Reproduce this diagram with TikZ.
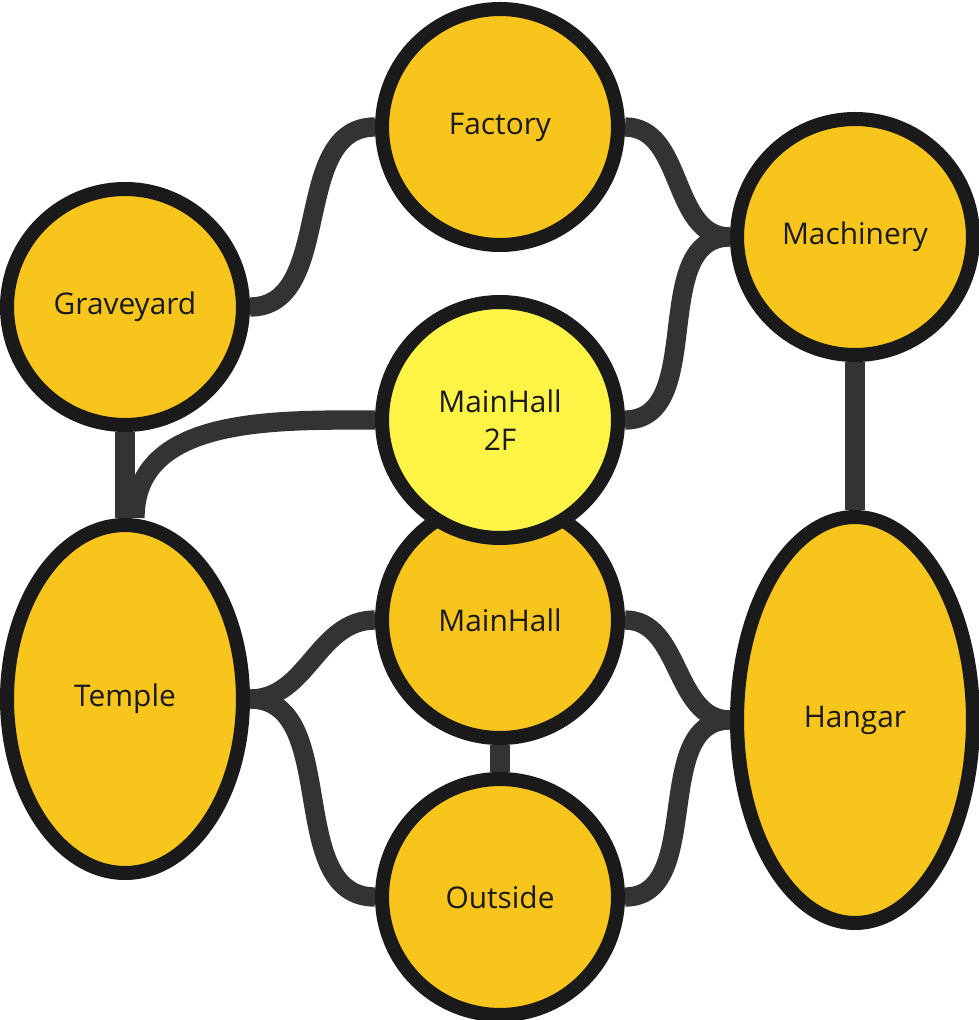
\documentclass[tikz,border=0pt]{standalone}
\usepackage{fontspec}
\setmainfont{Open Sans}
\usetikzlibrary{shapes.geometric, backgrounds}
\definecolor{roomfill}{HTML}{F8C51C}
\definecolor{hallfill}{HTML}{FEF445}
\definecolor{rim}{HTML}{1A1A1A}
\definecolor{road}{HTML}{333333}
\tikzset{
  room/.style={circle, draw=rim, line width=8pt, fill=roomfill, minimum size=4.72cm, inner sep=0pt, font=\fontsize{17}{22}\selectfont, text=rim, align=center},
  bigroom/.style={room, ellipse},
  link/.style={draw=road, line width=11pt}
}
\begin{document}
\begin{tikzpicture}[x=0.02cm, y=-0.02cm]
  \useasboundingbox (0,0) rectangle (979,1020);
  \node[room] (factory) at (500,127) {Factory};
  \node[room] (machinery) at (855,237) {Machinery};
  \node[room] (graveyard) at (125,307) {Graveyard};
  \node[room] (mainhall) at (500,620) {MainHall};
  \node[room, fill=hallfill] (hall2f) at (500,420) {MainHall\\2F};
  \node[room] (outside) at (500,897) {Outside};
  \node[bigroom, minimum width=4.72cm, minimum height=6.96cm] (temple) at (125,699) {Temple};
  \node[bigroom, minimum width=4.72cm, minimum height=8.12cm] (hangar) at (855,720) {Hangar};

  % connectors behind the rooms
  \begin{pgfonlayer}{background}
    \draw[link] (graveyard.east) to[out=0, in=180] (factory.west);
    \draw[link] (factory.east) to[out=0, in=180] (machinery.west);
    \draw[link] (hall2f.east) to[out=0, in=180] (machinery.west);
    \draw[link] (graveyard.south) -- (temple.north);
    \draw[link] (hall2f.west) to[out=180, in=90] ([xshift=0.2cm]temple.north);
    \draw[link] (machinery.south) -- (hangar.north);
    \draw[link] (mainhall.west) to[out=180, in=0] (temple.east);
    \draw[link] (outside.west) to[out=180, in=0] (temple.east);
    \draw[link] (mainhall.east) to[out=0, in=180] (hangar.west);
    \draw[link] (outside.east) to[out=0, in=180] (hangar.west);
    \draw[link] (mainhall.south) -- (outside.north);
  \end{pgfonlayer}
\end{tikzpicture}
\end{document}
